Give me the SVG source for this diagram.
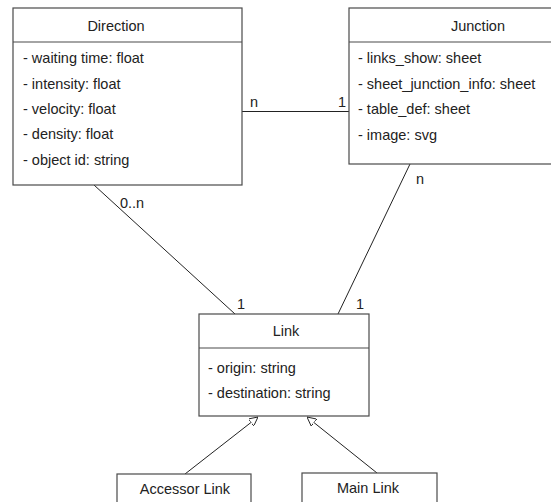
<svg xmlns="http://www.w3.org/2000/svg" width="551" height="502" viewBox="0 0 551 502">
  <style>
    .box { fill: #ffffff; stroke: #4a4a4a; stroke-width: 1.2; }
    .sep { stroke: #4a4a4a; stroke-width: 1.2; }
    .edge { stroke: #222; stroke-width: 1; fill: none; }
    text { font-family: "Liberation Sans", Arial, sans-serif; font-size: 14.5px; fill: #222; }
    .title { text-anchor: middle; }
  </style>
  <defs>
    <marker id="inherit" viewBox="0 0 10 10" refX="10" refY="5" markerWidth="9" markerHeight="9" orient="auto" markerUnits="userSpaceOnUse">
      <path d="M0,0 L10,5 L0,10 Z" fill="#fff" stroke="#222" stroke-width="1"/>
    </marker>
  </defs>
  <rect width="551" height="502" fill="#fff"/>

  <g id="connectors">
    <line class="edge" x1="242" y1="111.5" x2="349" y2="111.5"/>
    <text x="250" y="107">n</text>
    <text x="346" y="107" text-anchor="end">1</text>

    <line class="edge" x1="94" y1="185" x2="235" y2="314"/>
    <text x="120" y="208">0..n</text>
    <text x="237" y="309">1</text>

    <line class="edge" x1="410" y1="164" x2="338" y2="314"/>
    <text x="416" y="184">n</text>
    <text x="356" y="309">1</text>

    <line class="edge" x1="185" y1="474" x2="258" y2="417" marker-end="url(#inherit)"/>
    <line class="edge" x1="377" y1="473" x2="307" y2="417" marker-end="url(#inherit)"/>
  </g>

  <g id="direction">
    <rect class="box" x="13" y="8" width="229" height="177"/>
    <line class="sep" x1="13" y1="42" x2="242" y2="42"/>
    <text class="title" x="116" y="31">Direction</text>
    <text x="23" y="63">- waiting time: float</text>
    <text x="23" y="89">- intensity: float</text>
    <text x="23" y="114">- velocity: float</text>
    <text x="23" y="139">- density: float</text>
    <text x="23" y="165">- object id: string</text>
  </g>

  <g id="junction">
    <rect class="box" x="349" y="8" width="258" height="156"/>
    <line class="sep" x1="349" y1="42" x2="607" y2="42"/>
    <text class="title" x="478" y="31">Junction</text>
    <text x="358" y="63">- links_show: sheet</text>
    <text x="358" y="89">- sheet_junction_info: sheet</text>
    <text x="358" y="114">- table_def: sheet</text>
    <text x="358" y="140">- image: svg</text>
  </g>

  <g id="link">
    <rect class="box" x="199" y="314" width="170" height="102"/>
    <line class="sep" x1="199" y1="348" x2="369" y2="348"/>
    <text class="title" x="286" y="336">Link</text>
    <text x="208" y="373">- origin: string</text>
    <text x="208" y="398">- destination: string</text>
  </g>

  <g id="accessor-link">
    <rect class="box" x="117" y="474" width="134" height="40"/>
    <text class="title" x="185" y="494">Accessor Link</text>
  </g>

  <g id="main-link">
    <rect class="box" x="302" y="473" width="135" height="40"/>
    <text class="title" x="368" y="493">Main Link</text>
  </g>
</svg>
